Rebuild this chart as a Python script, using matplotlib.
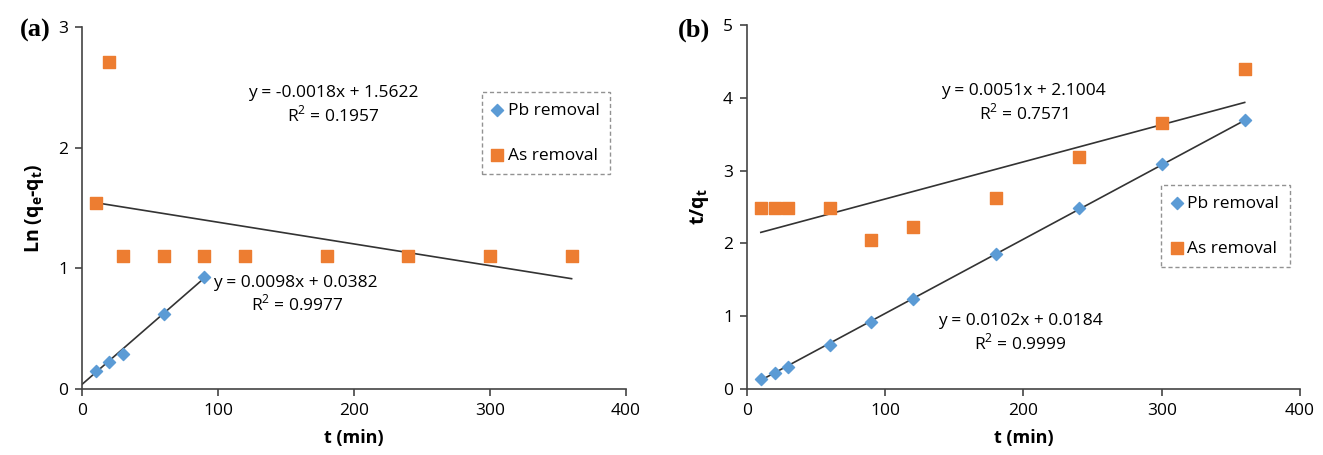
import numpy as np
import matplotlib
matplotlib.use('Agg')
from matplotlib import pyplot as plt

# data
t_pb_a = [10, 20, 30, 60, 90]
pb_a = [0.15, 0.22, 0.29, 0.62, 0.93]
t_as_a = [10, 20, 30, 60, 90, 120, 180, 240, 300, 360]
as_a = [1.54, 2.71, 1.10, 1.10, 1.10, 1.10, 1.10, 1.10, 1.10, 1.10]

t_b = [10, 20, 30, 60, 90, 120, 180, 240, 300, 360]
pb_b = [0.14, 0.22, 0.30, 0.61, 0.92, 1.23, 1.86, 2.48, 3.09, 3.70]
as_b = [2.49, 2.49, 2.49, 2.49, 2.04, 2.22, 2.63, 3.19, 3.66, 4.40]

# trend lines (slope, intercept, x range)
fit_pb_a = (0.0098, 0.0382, 0, 90)
fit_as_a = (-0.0018, 1.5622, 10, 360)
fit_pb_b = (0.0102, 0.0184, 10, 360)
fit_as_b = (0.0051, 2.1004, 10, 360)

blue = '#5B9BD5'
orange = '#ED7D31'
plt.rcParams['font.family'] = ['Open Sans', 'DejaVu Sans']
plt.rcParams['mathtext.fontset'] = 'custom'
plt.rcParams['mathtext.rm'] = 'Open Sans'
plt.rcParams['mathtext.bf'] = 'Open Sans:bold'
EQ = 12.5


def trend(ax, fit):
    m, c, x0, x1 = fit
    xs = np.array([x0, x1])
    ax.plot(xs, m * xs + c, color='#333333', lw=1.2, zorder=1)


def style(ax, ymax, ylabel):
    ax.set_xlim(0, 400)
    ax.set_ylim(0, ymax)
    ax.set_xticks(range(0, 401, 100))
    ax.set_yticks(range(0, ymax + 1))
    ax.spines['top'].set_visible(False)
    ax.spines['right'].set_visible(False)
    for s in ['left', 'bottom']:
        ax.spines[s].set_color('#444444')
        ax.spines[s].set_linewidth(1.2)
    ax.tick_params(direction='out', length=5, width=1.2, color='#444444',
                   labelsize=12.5, pad=5)
    ax.set_xlabel('t (min)', fontsize=13, fontweight='bold', labelpad=7)
    ax.set_ylabel(ylabel, fontsize=14, fontweight='bold', labelpad=9)


def legend(ax, loc):
    leg = ax.legend(loc='upper left', bbox_to_anchor=loc, fontsize=12.5,
                    frameon=True, fancybox=False, handlelength=0.6,
                    handletextpad=0.3, labelspacing=1.65, borderpad=0.6,
                    borderaxespad=0)
    fr = leg.get_frame()
    fr.set_edgecolor('#777777')
    fr.set_linestyle((0, (3, 2)))
    fr.set_linewidth(1.0)


fig = plt.figure(figsize=(13.23, 4.55), dpi=100)
W, H = 1323, 455
ax1 = fig.add_axes([82 / W, 1 - 389 / H, (626 - 82) / W, (389 - 27) / H])
ax2 = fig.add_axes([747 / W, 1 - 389 / H, (1300 - 747) / W, (389 - 25) / H])

# panel (a)
trend(ax1, fit_pb_a)
trend(ax1, fit_as_a)
ax1.scatter(t_pb_a, pb_a, marker='D', s=38, color=blue, label='Pb removal', zorder=3)
ax1.scatter(t_as_a, as_a, marker='s', s=85, color=orange, label='As removal', zorder=3)
style(ax1, 3, r'Ln (q$_\mathbf{e}$-q$_\mathbf{t}$)')
legend(ax1, (0.735, 0.82))
ax1.text(185, 2.45, 'y = -0.0018x + 1.5622', fontsize=EQ, ha='center', va='center')
ax1.text(185, 2.27, 'R$^2$ = 0.1957', fontsize=EQ, ha='center', va='center')
ax1.text(157, 0.88, 'y = 0.0098x + 0.0382', fontsize=EQ, ha='center', va='center')
ax1.text(158, 0.70, 'R$^2$ = 0.9977', fontsize=EQ, ha='center', va='center')
fig.text(20 / W, 1 - 30 / H, '(a)', fontsize=19, fontweight='bold',
         family='Liberation Serif', va='center')

# panel (b)
trend(ax2, fit_pb_b)
trend(ax2, fit_as_b)
ax2.scatter(t_b, pb_b, marker='D', s=38, color=blue, label='Pb removal', zorder=3)
ax2.scatter(t_b, as_b, marker='s', s=85, color=orange, label='As removal', zorder=3)
style(ax2, 5, r't/q$_\mathbf{t}$')
legend(ax2, (0.749, 0.56))
ax2.text(200, 4.09, 'y = 0.0051x + 2.1004', fontsize=EQ, ha='center', va='center')
ax2.text(200, 3.79, 'R$^2$ = 0.7571', fontsize=EQ, ha='center', va='center')
ax2.text(198, 0.93, 'y = 0.0102x + 0.0184', fontsize=EQ, ha='center', va='center')
ax2.text(198, 0.63, 'R$^2$ = 0.9999', fontsize=EQ, ha='center', va='center')
fig.text(678 / W, 1 - 30 / H, '(b)', fontsize=19, fontweight='bold',
         family='Liberation Serif', va='center')

fig.savefig('out.png', dpi=100)
